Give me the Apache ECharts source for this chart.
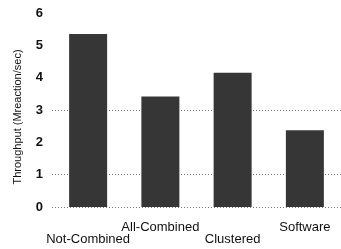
<!DOCTYPE html>
<html>
<head>
<meta charset="utf-8">
<script src="https://cdn.jsdelivr.net/npm/echarts@6/dist/echarts.min.js"></script>
<style>
  html, body { margin: 0; padding: 0; background: #fff; }
  #bar { width: 341px; height: 249px; }
</style>
</head>
<body>
<div id="bar"></div>
<script>
var categories = ["Not-Combined", "All-Combined", "Clustered", "Software"];
var throughput = [5.35, 3.42, 4.15, 2.37];
var yTicks = [0, 1, 2, 3, 4, 5, 6];
var gridValues = [0, 1, 3]; // only these dotted lines show in the figure

var myChart = echarts.init(document.getElementById('bar'));
var option = {
    animation: false,
    grid: { left: 52, top: 13, width: 296, bottom: 42 },
    xAxis: {
        type: 'category',
        data: categories,
        axisLine: { show: false },
        axisTick: { show: false },
        axisLabel: {
            interval: 0,
            margin: 14,
            color: '#111',
            fontFamily: 'Liberation Sans',
            fontSize: 13,
            formatter: function (value, index) {
                return index % 2 === 0 ? '{lo|' + value + '}' : '{hi|' + value + '}';
            },
            rich: {
                lo: { padding: [12, 0, 0, 0], fontSize: 13, color: '#111', fontFamily: 'Liberation Sans' },
                hi: { padding: [0, 0, 0, 0], fontSize: 13, color: '#111', fontFamily: 'Liberation Sans' }
            }
        }
    },
    yAxis: {
        type: 'value',
        min: yTicks[0],
        max: yTicks[yTicks.length - 1],
        interval: 1,
        name: 'Throughput (Mreaction/sec)',
        nameLocation: 'middle',
        nameGap: 29,
        nameTextStyle: { color: '#111', fontFamily: 'Liberation Sans', fontSize: 11, padding: [0, 0, 0, -14] },
        axisLine: { show: false },
        axisTick: { show: false },
        splitLine: { show: false },
        axisLabel: { margin: 9, color: '#111', fontWeight: 'bold', fontFamily: 'Liberation Sans', fontSize: 13 }
    },
    series: [{
        type: 'bar',
        data: throughput,
        barWidth: 38,
        itemStyle: { color: '#363636' },
        z: 3,
        markLine: {
            silent: true,
            symbol: 'none',
            label: { show: false },
            lineStyle: { type: [1, 2], color: '#777', width: 1 },
            z: 1,
            data: gridValues.map(function (v) { return { yAxis: v }; })
        }
    }]
};
myChart.setOption(option);
</script>
</body>
</html>
